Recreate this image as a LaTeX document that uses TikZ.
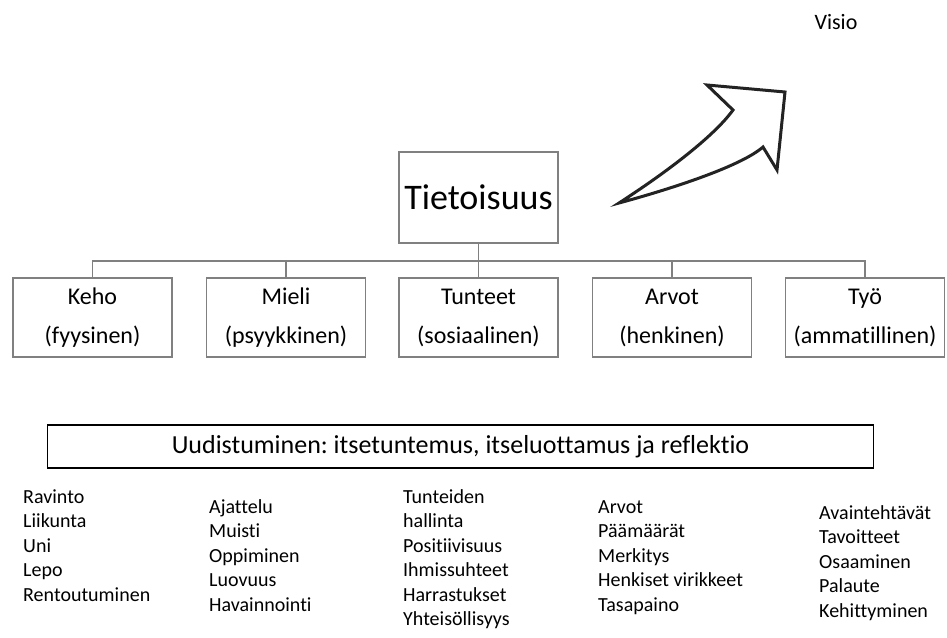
\documentclass[tikz,border=0pt]{standalone}
\usepackage{fontspec}
\setmainfont{Carlito}[Ligatures=NoCommon]
\usetikzlibrary{positioning}
\definecolor{boxgray}{RGB}{128,128,128}
\definecolor{arrowblack}{RGB}{35,35,35}
\frenchspacing

\begin{document}
\begin{tikzpicture}[
  x=1pt, y=-1pt,
  root/.style={draw=boxgray, line width=1.2pt, minimum width=159pt, minimum height=91pt, inner sep=0pt, font=\fontsize{36}{42}\selectfont},
  cat/.style={draw=boxgray, line width=1.2pt, minimum width=159pt, minimum height=79pt, inner sep=0pt, align=center, font=\fontsize{24}{39}\selectfont},
  renew/.style={draw=black, line width=1.4pt, minimum width=826pt, minimum height=43pt, inner sep=0pt, font=\fontsize{26}{30}\selectfont},
  list/.style={anchor=base west, align=left, inner sep=0pt, font=\fontsize{20}{24.5}\selectfont},
  conn/.style={draw=boxgray, line width=1.2pt},
  bigarrow/.style={draw=arrowblack, line width=3pt, line join=miter, fill=white}
]
\useasboundingbox (0,0) rectangle (947,637);

% vision arrow
\node[font=\fontsize{22}{26}\selectfont] (visio) at (836,22) {Visio};
\draw[bigarrow] (619,203) .. controls (670,170) and (715,135) .. (733,110)
  -- (707,85) -- (785,92) -- (777,170) -- (763,147)
  .. controls (740,167) and (667,190) .. cycle;

% tree
\node[root] (root) at (478.5,197.5) {Tietoisuus};
\node[cat] (keho)    at (92.5,317.5)  {Keho\\(fyysinen)};
\node[cat] (mieli)   at (286,317.5)   {Mieli\\(psyykkinen)};
\node[cat] (tunteet) at (478.5,317.5) {Tunteet\\(sosiaalinen)};
\node[cat] (arvot)   at (672,317.5)   {Arvot\\(henkinen)};
\node[cat] (tyo)     at (865,317.5)   {Työ\\(ammatillinen)};

\coordinate (bus) at (478.5,261);
\draw[conn] (root.south) -- (bus);
\foreach \n in {keho,mieli,tunteet,arvot,tyo}
  \draw[conn] (bus) -| (\n.north);

\node[renew] (uud) at (460.5,446.5) {Uudistuminen: itsetuntemus, itseluottamus ja reflektio};

% lists (anchored at the baseline of the last line)
\node[list] (l1) at (23,601)    {Ravinto\\Liikunta\\Uni\\Lepo\\Rentoutuminen};
\node[list] (l2) at (209,611)   {Ajattelu\\Muisti\\Oppiminen\\Luovuus\\Havainnointi};
\node[list] (l3) at (403,625.5) {Tunteiden\\hallinta\\Positiivisuus\\Ihmissuhteet\\Harrastukset\\Yhteisöllisyys};
\node[list] (l4) at (598,611)   {Arvot\\Päämäärät\\Merkitys\\Henkiset virikkeet\\Tasapaino};
\node[list] (l5) at (819,617)   {Avaintehtävät\\Tavoitteet\\Osaaminen\\Palaute\\Kehittyminen};
\end{tikzpicture}
\end{document}
